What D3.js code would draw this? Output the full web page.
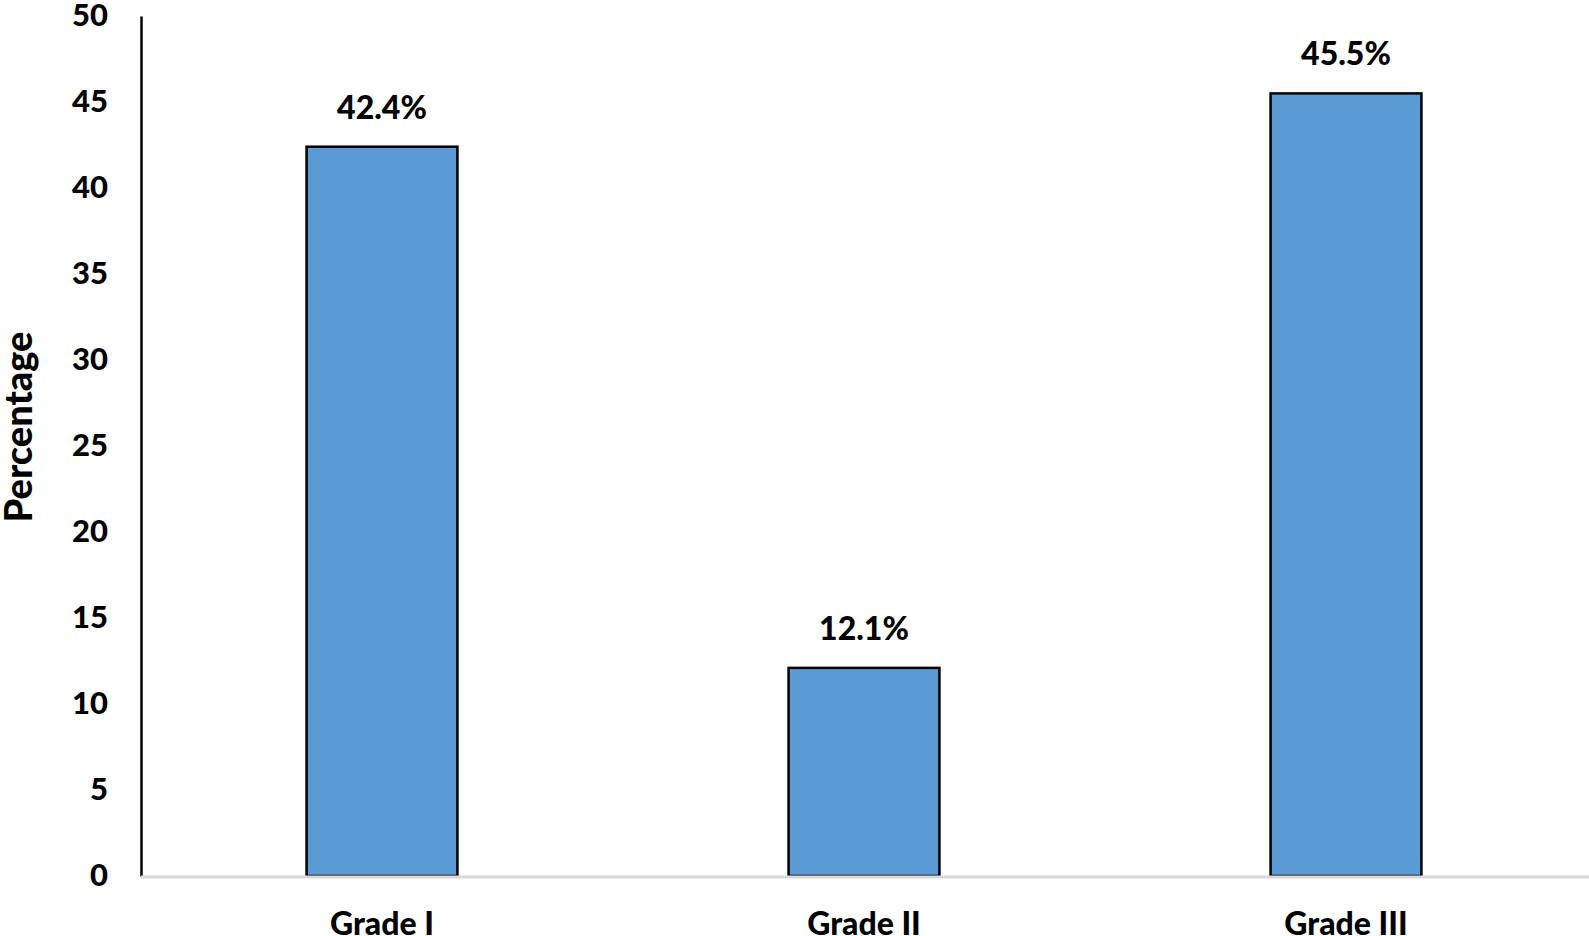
<!DOCTYPE html>
<html>
<head>
<meta charset="utf-8">
<script src="https://cdn.jsdelivr.net/npm/d3@7"></script>
<style>
  html, body { margin: 0; padding: 0; background: #fff; overflow: hidden; }
  svg { display: block; font-family: Lato, "Open Sans", sans-serif; font-weight: 900; }
</style>
</head>
<body>
<div id="chart"></div>
<script>
// Grade distribution bar chart
const categories = ['Grade I', 'Grade II', 'Grade III'];
const values = [42.4, 12.1, 45.5];
const yTicks = [0, 5, 10, 15, 20, 25, 30, 35, 40, 45, 50];
const yLabel = 'Percentage';

const width = 1589;
const height = 936;
const margin = {top: 16, right: 2, bottom: 60, left: 141};

const svg = d3.select('#chart').append('svg')
    .attr('width', width)
    .attr('height', height);

const x = d3.scaleBand()
    .domain(categories)
    .range([margin.left, width - margin.right])
    .paddingInner(0.687)
    .paddingOuter(0.3435);

const y = d3.scaleLinear()
    .domain([0, 50])
    .range([height - margin.bottom, margin.top]);

// y axis
const yAxis = svg.append('g')
    .attr('transform', `translate(${margin.left},0)`)
    .call(d3.axisLeft(y).tickValues(yTicks).tickSize(0).tickPadding(33));
yAxis.select('.domain').attr('stroke', '#000').attr('stroke-width', 2.5);
yAxis.selectAll('.tick text')
    .attr('font-size', 31)
    .attr('font-family', 'Lato, sans-serif')
    .attr('font-weight', 900)
    .attr('fill', '#000');

// bars
svg.append('g')
    .selectAll('rect')
    .data(values)
    .join('rect')
    .attr('x', (d, i) => x(categories[i]))
    .attr('y', d => y(d))
    .attr('width', x.bandwidth())
    .attr('height', d => y(0) - y(d))
    .attr('fill', '#5B9BD5')
    .attr('stroke', '#000')
    .attr('stroke-width', 2.5);

// baseline
svg.append('line')
    .attr('x1', margin.left)
    .attr('x2', width)
    .attr('y1', y(0) + 1)
    .attr('y2', y(0) + 1)
    .attr('stroke', '#d9d9d9')
    .attr('stroke-width', 3);

// value labels
svg.append('g')
    .selectAll('text')
    .data(values)
    .join('text')
    .attr('x', (d, i) => x(categories[i]) + x.bandwidth() / 2)
    .attr('y', d => y(d) - 28)
    .attr('text-anchor', 'middle')
    .attr('font-size', 32)
    .text(d => d.toFixed(1) + '%');

// category labels
svg.append('g')
    .selectAll('text')
    .data(categories)
    .join('text')
    .attr('x', d => x(d) + x.bandwidth() / 2)
    .attr('y', 935)
    .attr('text-anchor', 'middle')
    .attr('font-size', 32)
    .text(d => d);

// axis title
svg.append('text')
    .attr('transform', `translate(32,427) rotate(-90)`)
    .attr('text-anchor', 'middle')
    .attr('font-size', 38)
    .text(yLabel);
</script>
</body>
</html>
